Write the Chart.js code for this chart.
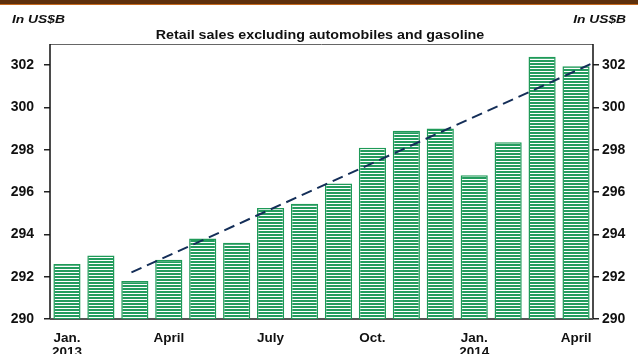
<!DOCTYPE html>
<html>
<head>
<meta charset="utf-8">
<script src="https://cdn.jsdelivr.net/npm/chart.js@4.4.1/dist/chart.umd.min.js"></script>
<style>
  html, body { margin: 0; padding: 0; background: #fff; }
  #wrap { position: relative; width: 638px; height: 354px; overflow: hidden; font-family: Arial, "Liberation Sans", sans-serif; }
  #topbar { position: absolute; left: 0; top: 0; width: 638px; height: 4px; background: #5e300c; border-bottom: 1.5px solid #c5691e; }
  .unit { position: absolute; top: 13px; font-size: 11.5px; font-weight: bold; font-style: italic; color: #111; transform: scaleX(1.2); }
  #unitL { left: 12px; transform-origin: left center; }
  #unitR { right: 12px; transform-origin: right center; }
  #title { position: absolute; top: 28px; left: 320px; font-size: 12px; font-weight: bold; color: #111; white-space: nowrap; transform: translateX(-50%) scaleX(1.19); }
  canvas { position: absolute; left: 0; top: 0; }
</style>
</head>
<body>
<div id="wrap">
  <canvas id="salesChart" width="638" height="354"></canvas>
  <div id="topbar"></div>
  <div class="unit" id="unitL">In US$B</div>
  <div class="unit" id="unitR">In US$B</div>
  <div id="title">Retail sales excluding automobiles and gasoline</div>
</div>
<script>
// ----- Data -----
const monthLabels = [
  ["Jan.", "2013"], "", "", "April", "", "", "July", "", "", "Oct.", "", "",
  ["Jan.", "2014"], "", "", "April"
];
// monthly retail sales, US$ billions (Jan 2013 - April 2014)
const salesValues = [
  292.6, 293.0, 291.8, 292.8, 293.8, 293.6, 295.25, 295.45,
  296.4, 298.1, 298.9, 299.0, 296.8, 298.35, 302.4, 301.95
];
// trend line end points: [month index, value]
const trendStart = [1.9, 292.2];
const trendEnd = [15.5, 302.1];
const yTicks = [290, 292, 294, 296, 298, 300, 302];

// ----- Striped bar fill -----
function makeStripes() {
  const c = document.createElement("canvas");
  c.width = 4;
  c.height = 3;
  const g = c.getContext("2d");
  g.fillStyle = "#ffffff";
  g.fillRect(0, 0, 4, 3);
  g.fillStyle = "#239c5e";
  g.fillRect(0, 0, 4, 2);
  return g.createPattern(c, "repeat");
}

// frame round the plot area
const framePlugin = {
  id: "frame",
  beforeDatasetsDraw(chart) {
    const { ctx, chartArea: a } = chart;
    ctx.save();
    ctx.strokeStyle = "#666";
    ctx.lineWidth = 1;
    ctx.beginPath();
    ctx.moveTo(a.left, a.top + 0.5);
    ctx.lineTo(a.right, a.top + 0.5);
    ctx.stroke();
    ctx.strokeStyle = "#111";
    ctx.lineWidth = 1.5;
    ctx.beginPath();
    ctx.moveTo(a.left, a.top);
    ctx.lineTo(a.left, a.bottom);
    ctx.moveTo(a.right, a.top);
    ctx.lineTo(a.right, a.bottom);
    ctx.stroke();
    ctx.strokeStyle = "#555";
    ctx.lineWidth = 2;
    ctx.beginPath();
    ctx.moveTo(a.left, a.bottom);
    ctx.lineTo(a.right, a.bottom);
    ctx.stroke();
    ctx.restore();
  }
};

const tickFont = { family: "Arial, 'Liberation Sans', sans-serif", size: 14, weight: "bold" };

const yAxis = (position, width, pad) => ({
  type: "linear",
  position: position,
  min: 290,
  max: 303,
  afterBuildTicks: axis => { axis.ticks = yTicks.map(v => ({ value: v })); },
  afterFit: axis => { axis.width = width; },
  border: { display: false },
  grid: { drawOnChartArea: false, drawTicks: true, tickLength: 6, color: "#222", lineWidth: 1.5 },
  ticks: { color: "#111", font: tickFont, padding: pad }
});

new Chart(document.getElementById("salesChart"), {
  data: {
    labels: monthLabels,
    datasets: [
      {
        type: "line",
        data: [
          { x: trendStart[0], y: trendStart[1] },
          { x: trendEnd[0], y: trendEnd[1] }
        ],
        xAxisID: "xLine",
        yAxisID: "y",
        borderColor: "#142e58",
        borderWidth: 2,
        borderDash: [11, 6],
        pointRadius: 0,
        order: 0
      },
      {
        type: "bar",
        data: salesValues,
        xAxisID: "x",
        yAxisID: "y",
        backgroundColor: makeStripes(),
        borderColor: "#1f9a58",
        borderWidth: 1.5,
        borderSkipped: false,
        grouped: false,
        barPercentage: 0.8,
        categoryPercentage: 1.0,
        order: 1
      }
    ]
  },
  options: {
    responsive: false,
    animation: false,
    layout: { padding: { top: 44, left: 0, right: 0, bottom: 0 } },
    plugins: { legend: { display: false }, tooltip: { enabled: false } },
    scales: {
      x: {
        type: "category",
        offset: true,
        afterFit: axis => { axis.height = 35; },
        border: { display: false },
        grid: { display: false },
        ticks: {
          autoSkip: false,
          maxRotation: 0,
          color: "#111",
          padding: 5,
          font: { family: "Arial, 'Liberation Sans', sans-serif", size: 13.5, weight: "bold", lineHeight: 1.0 }
        }
      },
      xLine: { type: "linear", min: -0.5, max: 15.5, display: false },
      y: yAxis("left", 50, 10),
      y2: yAxis("right", 45, 3)
    }
  },
  plugins: [framePlugin]
});
</script>
</body>
</html>
